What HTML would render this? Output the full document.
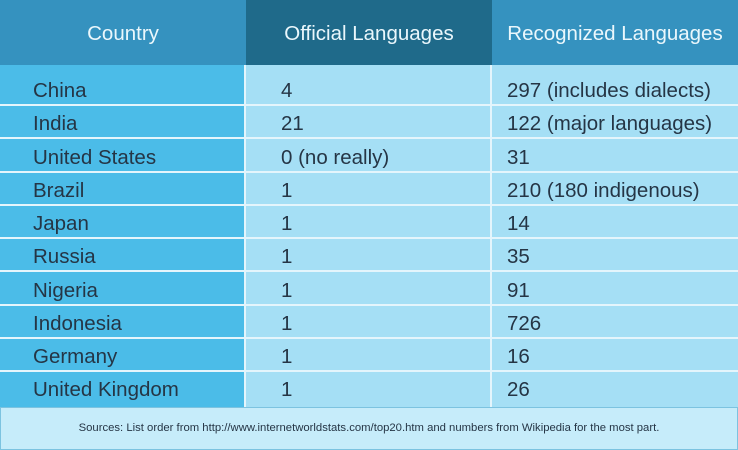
<!DOCTYPE html>
<html><head><meta charset="utf-8"><style>
body{margin:0;width:738px;height:450px;overflow:hidden;font-family:"Liberation Sans",sans-serif;position:relative;background:#a5dff5}
.a{position:absolute}
.h{top:0;height:65px;color:#eaf7fc;font-size:20.5px;line-height:67px;text-align:center}
.t{color:#253545;font-size:20.5px;line-height:22px;white-space:nowrap}
.sep{position:absolute;height:2px;background:#e4f5fc}
</style></head><body>
<div class="a h" style="left:0;width:246px;background:#3592bf">Country</div>
<div class="a h" style="left:246px;width:246px;background:#1f6a8a">Official Languages</div>
<div class="a h" style="left:492px;width:246px;background:#3592bf">Recognized Languages</div>
<div class="a" style="left:0;top:65px;width:244px;height:343px;background:#4bbce8"></div>
<div class="a" style="left:244px;top:65px;width:2px;height:343px;background:#e4f5fc"></div>
<div class="a" style="left:490px;top:65px;width:2px;height:343px;background:#e4f5fc"></div>
<div id="rows"></div>
<div class="a" style="left:0;top:407px;width:736px;height:41px;background:#c6ecfa;border:1px solid #7cc3e0;color:#253545;font-size:11.3px;line-height:41px;text-align:center">Sources: List order from http://www.internetworldstats.com/top20.htm and numbers from Wikipedia for the most part.</div>
<script>
var d=[["China","4","297 (includes dialects)"],["India","21","122 (major languages)"],["United States","0 (no really)","31"],["Brazil","1","210 (180 indigenous)"],["Japan","1","14"],["Russia","1","35"],["Nigeria","1","91"],["Indonesia","1","726"],["Germany","1","16"],["United Kingdom","1","26"]];
var h="";
for(var i=0;i<10;i++){var y=80+33.25*i;
h+='<div class="a t" style="left:33px;top:'+y+'px">'+d[i][0]+'</div>';
h+='<div class="a t" style="left:281px;top:'+y+'px">'+d[i][1]+'</div>';
h+='<div class="a t" style="left:507px;top:'+y+'px">'+d[i][2]+'</div>';
if(i<9)h+='<div class="sep" style="left:0;width:738px;top:'+(104+33.25*i)+'px"></div>';}
document.getElementById("rows").innerHTML=h;
</script>
</body></html>
